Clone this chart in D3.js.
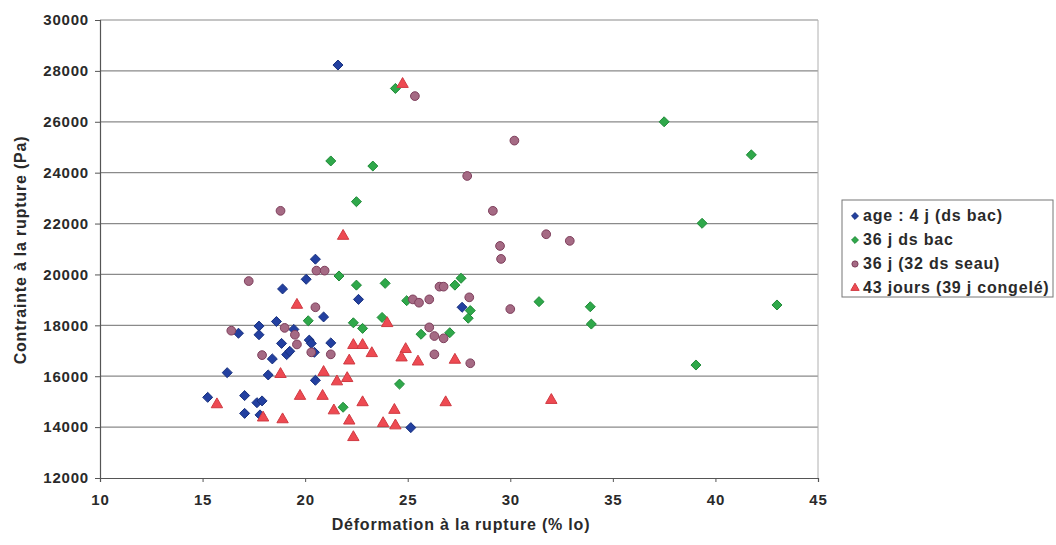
<!DOCTYPE html>
<html>
<head>
<meta charset="utf-8">
<script src="https://cdn.jsdelivr.net/npm/d3@7"></script>
<style>
  body { margin: 0; background: #fff; }
  svg text { font-family: "Liberation Sans", Arial, sans-serif; }
  .tick text { font-size: 15px; font-weight: bold; fill: #2a2a2a; letter-spacing: 0.8px; }
</style>
</head>
<body>
<div id="chart"></div>
<script>
// series: [deformation %, contrainte Pa]
var seriesNames = ['age : 4 j (ds bac)', '36 j ds bac', '36 j (32 ds seau)', '43 jours (39 j congelé)'];

var age4 = [
  [21.6, 28230], [20.5, 20600], [20.05, 19810], [18.9, 19430], [22.6, 19020], [20.9, 18330],
  [18.6, 18150], [17.75, 17970], [17.75, 17630], [16.75, 17690], [19.45, 17840], [18.85, 17290],
  [20.2, 17420], [20.3, 17290], [21.25, 17310], [18.4, 16680], [19.1, 16850], [19.25, 16980],
  [20.45, 16940], [16.2, 16140], [18.2, 16050], [20.5, 15840], [15.25, 15170], [17.05, 15240],
  [17.65, 14960], [17.9, 15030], [17.05, 14540], [17.8, 14480], [25.15, 13980], [27.65, 18710]
];
var bac36 = [
  [24.4, 27310], [21.25, 24460], [23.3, 24260], [22.5, 22860], [21.65, 19940], [22.5, 19580],
  [23.9, 19650], [27.3, 19580], [27.6, 19850], [24.95, 18970], [28.05, 18580], [27.95, 18280],
  [31.4, 18930], [20.15, 18180], [22.35, 18100], [23.75, 18310], [22.8, 17880], [25.65, 17650],
  [27.05, 17710], [24.6, 15690], [21.85, 14780], [37.5, 26000], [41.75, 24700], [39.35, 22010],
  [33.9, 18730], [33.95, 18050], [39.05, 16440], [43.0, 18800]
];
var seau36 = [
  [25.35, 27010], [30.2, 25260], [27.9, 23870], [29.15, 22500], [18.8, 22500], [31.75, 21580],
  [32.9, 21320], [29.5, 21120], [29.55, 20610], [20.55, 20150], [20.95, 20150], [17.25, 19740],
  [26.55, 19520], [26.75, 19520], [25.25, 19020], [25.55, 18890], [26.05, 19020], [28.0, 19100],
  [20.5, 18710], [30.0, 18640], [16.4, 17790], [19.0, 17900], [19.5, 17630], [26.05, 17920],
  [26.3, 17580], [26.75, 17490], [19.6, 17250], [17.9, 16830], [20.3, 16940], [21.25, 16860],
  [26.3, 16860], [28.05, 16510]
];
var jours43 = [
  [24.75, 27480], [21.85, 21510], [19.6, 18800], [24.0, 18080], [22.35, 17220], [22.8, 17220],
  [23.25, 16900], [24.9, 17060], [24.7, 16730], [25.5, 16570], [27.3, 16640], [22.15, 16610],
  [18.8, 16080], [20.9, 16160], [21.55, 15790], [22.05, 15920], [15.7, 14890], [19.75, 15220],
  [20.85, 15220], [21.4, 14650], [22.8, 14970], [24.35, 14670], [26.85, 14970], [22.15, 14250],
  [22.35, 13600], [17.95, 14370], [18.9, 14300], [23.8, 14150], [24.4, 14060], [32.0, 15060]
];

var xTicks = [10, 15, 20, 25, 30, 35, 40, 45];
var yTicks = [12000, 14000, 16000, 18000, 20000, 22000, 24000, 26000, 28000, 30000];

var W = 1056, H = 545;
var mLeft = 100, mRight = 818, mTop = 20, mBottom = 478;

var svg = d3.select('#chart').append('svg')
  .attr('width', W).attr('height', H);

var x = d3.scaleLinear().domain([10, 45]).range([mLeft, mRight]);
var y = d3.scaleLinear().domain([12000, 30000]).range([mBottom, mTop]);

// grid
svg.append('g').selectAll('line')
  .data(yTicks.slice(1))
  .enter().append('line')
  .attr('x1', mLeft).attr('x2', mRight)
  .attr('y1', function(d) { return y(d); }).attr('y2', function(d) { return y(d); })
  .attr('stroke', '#8a8a8a').attr('stroke-width', 1.2);

svg.append('line')
  .attr('x1', mRight).attr('x2', mRight).attr('y1', mTop).attr('y2', mBottom)
  .attr('stroke', '#b0b0b0').attr('stroke-width', 1);

// axes
var xAxis = svg.append('g')
  .attr('transform', 'translate(0,' + mBottom + ')')
  .call(d3.axisBottom(x).tickValues(xTicks).tickSize(4).tickPadding(12));
var yAxis = svg.append('g')
  .attr('transform', 'translate(' + mLeft + ',0)')
  .call(d3.axisLeft(y).tickValues(yTicks).tickSize(5).tickPadding(6).tickFormat(d3.format('d')));
[xAxis, yAxis].forEach(function(a) {
  a.select('.domain').attr('stroke', '#555').attr('stroke-width', 1.2);
  a.selectAll('.tick line').attr('stroke', '#555');
});

// axis titles
svg.append('text')
  .attr('x', 461).attr('y', 530)
  .attr('text-anchor', 'middle')
  .attr('font-size', 16).attr('font-weight', 'bold').attr('fill', '#2a2a2a')
  .attr('letter-spacing', 0.8)
  .text('Déformation à la rupture (% lo)');
svg.append('text')
  .attr('transform', 'translate(26,250) rotate(-90)')
  .attr('text-anchor', 'middle')
  .attr('font-size', 16).attr('font-weight', 'bold').attr('fill', '#2a2a2a')
  .attr('letter-spacing', 0.8)
  .text('Contrainte à la rupture (Pa)');

// markers
var diamond = d3.symbol().type(d3.symbolDiamond2).size(64);
var circle = d3.symbol().type(d3.symbolCircle).size(60);
var triangle = d3.symbol().type(d3.symbolTriangle).size(56);

var styles = [
  { data: age4, sym: diamond, fill: '#2340a0', stroke: '#17307e' },
  { data: bac36, sym: diamond, fill: '#2fa84a', stroke: '#1f8a38' },
  { data: seau36, sym: circle, fill: '#a56a84', stroke: '#7e3f5c' },
  { data: jours43, sym: triangle, fill: '#ee4a52', stroke: '#d03a42' }
];

styles.forEach(function(s) {
  svg.append('g').selectAll('path')
    .data(s.data)
    .enter().append('path')
    .attr('d', s.sym)
    .attr('transform', function(d) { return 'translate(' + x(d[0]) + ',' + y(d[1]) + ')'; })
    .attr('fill', s.fill)
    .attr('stroke', s.stroke)
    .attr('stroke-width', 1);
});

// legend
var lg = svg.append('g').attr('transform', 'translate(842,200)');
lg.append('rect')
  .attr('width', 211).attr('height', 97)
  .attr('fill', '#fff').attr('stroke', '#777').attr('stroke-width', 1);
var items = lg.selectAll('g.item')
  .data(styles)
  .enter().append('g')
  .attr('transform', function(d, i) { return 'translate(0,' + (15 + i * 24) + ')'; });
items.append('path')
  .attr('d', function(d) { return d3.symbol().type(d.sym.type()).size(30)(); })
  .attr('transform', 'translate(13,1)')
  .attr('fill', function(d) { return d.fill; })
  .attr('stroke', function(d) { return d.stroke; });
items.append('text')
  .attr('x', 21).attr('y', 6)
  .attr('font-size', 16).attr('font-weight', 'bold').attr('fill', '#2a2a2a')
  .attr('letter-spacing', 0.8)
  .text(function(d, i) { return seriesNames[i]; });
</script>
</body>
</html>
